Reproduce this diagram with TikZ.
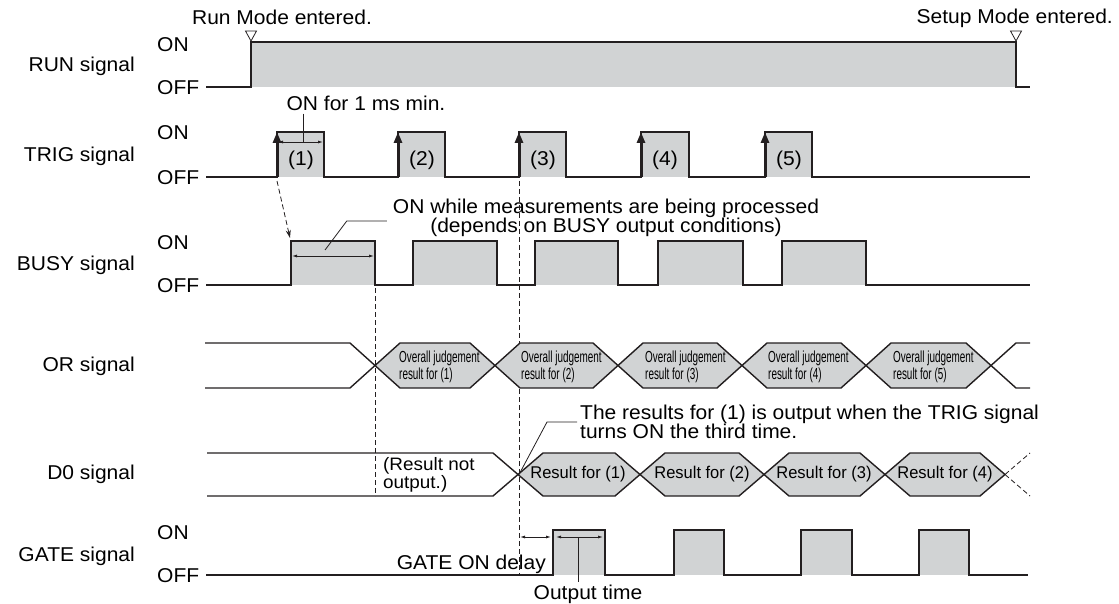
\documentclass[tikz,border=0pt]{standalone}
\usepackage{fontspec}
\setmainfont[FakeStretch=1.05]{Liberation Sans}
\newfontfamily\narrowfont[FakeStretch=0.62]{Liberation Sans}
\newfontfamily\cellfont[FakeStretch=0.97]{Liberation Sans}
\usetikzlibrary{arrows.meta, positioning}

\definecolor{ink}{HTML}{231F20}
\definecolor{shade}{HTML}{D1D3D4}

\begin{document}
\begin{tikzpicture}[
  x=1pt, y=-1pt,
  wave/.style={draw=ink, line width=1.4pt, line join=miter},
  onfill/.style={fill=shade},
  signame/.style={anchor=east, inner sep=0pt, font=\fontsize{20}{23}\selectfont},
  lvl/.style={anchor=west, inner sep=0pt, font=\fontsize{20}{23}\selectfont},
  note/.style={inner sep=0pt, align=left, font=\fontsize{20}{19}\selectfont},
  judge/.style={anchor=west, inner sep=0pt, align=left, font=\narrowfont\fontsize{16}{17}\selectfont},
  result/.style={inner sep=0pt, font=\cellfont\fontsize{17}{19}\selectfont},
  dim/.style={{Latex[length=5pt,width=3pt]}-{Latex[length=5pt,width=3pt]}, draw=ink, line width=0.8pt},
  leader/.style={draw=ink, line width=0.8pt},
  guide/.style={draw=ink, dash pattern=on 5pt off 3pt, line width=0.8pt},
  trigedge/.style={-{Triangle[length=11pt,width=8pt]}, draw=ink, line width=3pt},
  runflag/.style={draw=ink, fill=white, line width=0.8pt}
]
  \useasboundingbox (0,0) rectangle (1119,604);

  % signal names and levels
  \node[signame] (runsig) at (135,66) {RUN signal};
  \node[signame] (trigsig) at (135,156) {TRIG signal};
  \node[signame] (busysig) at (135,265) {BUSY signal};
  \node[signame] (orsig) at (135,366) {OR signal};
  \node[signame] (dosig) at (135,474) {D0 signal};
  \node[signame] (gatesig) at (135,556) {GATE signal};

  \node[lvl] (runon) at (157,45) {ON};
  \node[lvl] (runoff) at (157,88) {OFF};
  \node[lvl] (trigon) at (157,133) {ON};
  \node[lvl] (trigoff) at (157,178) {OFF};
  \node[lvl] (busyon) at (157,243) {ON};
  \node[lvl] (busyoff) at (157,286) {OFF};
  \node[lvl] (gateon) at (157,533) {ON};
  \node[lvl] (gateoff) at (157,576) {OFF};

  % RUN signal
  \fill[onfill] (251,42) rectangle (1016,87);
  \draw[wave] (206,87) -- (251,87) -- (251,42) -- (1016,42) -- (1016,87) -- (1030,87);
  \draw[runflag] (245.5,31) -- (256.5,31) -- (251,41) -- cycle;
  \draw[runflag] (1010.5,31) -- (1021.5,31) -- (1016,41) -- cycle;
  \node[note] (runmode) at (282,17) {Run Mode entered.};
  \node[note, anchor=east] (setupmode) at (1113,18) {Setup Mode entered.};

  % TRIG signal
  \fill[onfill] (277,132) rectangle (324,177);
  \fill[onfill] (398,132) rectangle (445,177);
  \fill[onfill] (519,132) rectangle (566,177);
  \fill[onfill] (641,132) rectangle (689,177);
  \fill[onfill] (765,132) rectangle (812,177);
  \draw[wave] (206,177) -- (277,177) -- (277,132) -- (324,132) -- (324,177)
    -- (398,177) -- (398,132) -- (445,132) -- (445,177)
    -- (519,177) -- (519,132) -- (566,132) -- (566,177)
    -- (641,177) -- (641,132) -- (689,132) -- (689,177)
    -- (765,177) -- (765,132) -- (812,132) -- (812,177) -- (1030,177);
  \draw[trigedge] (277,177) -- (277,132);
  \draw[trigedge] (398,177) -- (398,132);
  \draw[trigedge] (519,177) -- (519,132);
  \draw[trigedge] (641,177) -- (641,132);
  \draw[trigedge] (765,177) -- (765,132);
  \node[note] (trig1) at (301,160) {(1)};
  \node[note] (trig2) at (422,160) {(2)};
  \node[note] (trig3) at (543,160) {(3)};
  \node[note] (trig4) at (665,160) {(4)};
  \node[note] (trig5) at (789,160) {(5)};

  \node[note] (onmin) at (366,103) {ON for 1 ms min.};
  \coordinate (onminarr) at (303,142);
  \draw[dim] (278,142) -- (323,142);
  \draw[leader] ([yshift=-3pt]onmin.south -| onminarr) -- (onminarr);

  % BUSY signal
  \fill[onfill] (291,241) rectangle (375,285);
  \fill[onfill] (413,241) rectangle (497,285);
  \fill[onfill] (535,241) rectangle (618,285);
  \fill[onfill] (658,241) rectangle (743,285);
  \fill[onfill] (782,241) rectangle (866,285);
  \draw[wave] (206,285) -- (291,285) -- (291,241) -- (375,241) -- (375,285)
    -- (413,285) -- (413,241) -- (497,241) -- (497,285)
    -- (535,285) -- (535,241) -- (618,241) -- (618,285)
    -- (658,285) -- (658,241) -- (743,241) -- (743,285)
    -- (782,285) -- (782,241) -- (866,241) -- (866,285) -- (1030,285);
  \draw[dim] (292,256) -- (374,256);
  \draw[guide, -{Stealth[length=8pt,width=5pt]}] (277,181) -- (290,238);

  \node[note, align=center] (busynote) at (606,218)
    {ON while measurements are being processed\\(depends on BUSY output conditions)};
  \coordinate (busyarr) at (325,250);
  \draw[leader] ([xshift=-6pt,yshift=-3pt]busynote.west) -- ++(-40,0) -- (busyarr);

  % timing guides
  \draw[guide] (375,288) -- (375,496);
  \draw[guide] (519,181) -- (519,575);

  % OR signal
  \draw[wave] (205,343) -- (350,343) -- (375,365.5);
  \draw[wave] (205,388) -- (350,388) -- (375,365.5);
  \filldraw[wave, onfill] (375,365.5) -- (400,343) -- (470,343) -- (495,365.5) -- (470,388) -- (400,388) -- cycle;
  \filldraw[wave, onfill] (495,365.5) -- (520,343) -- (593,343) -- (618,365.5) -- (593,388) -- (520,388) -- cycle;
  \filldraw[wave, onfill] (618,365.5) -- (643,343) -- (717,343) -- (742,365.5) -- (717,388) -- (643,388) -- cycle;
  \filldraw[wave, onfill] (742,365.5) -- (767,343) -- (841,343) -- (866,365.5) -- (841,388) -- (767,388) -- cycle;
  \filldraw[wave, onfill] (866,365.5) -- (891,343) -- (966,343) -- (991,365.5) -- (966,388) -- (891,388) -- cycle;
  \draw[wave] (991,365.5) -- (1016,343) -- (1030,343);
  \draw[wave] (991,365.5) -- (1016,388) -- (1030,388);
  \node[judge] (or1) at (399,367) {Overall judgement\\result for (1)};
  \node[judge] (or2) at (521,367) {Overall judgement\\result for (2)};
  \node[judge] (or3) at (645,367) {Overall judgement\\result for (3)};
  \node[judge] (or4) at (768,367) {Overall judgement\\result for (4)};
  \node[judge] (or5) at (893,367) {Overall judgement\\result for (5)};

  % D0 signal
  \draw[wave] (207,453) -- (493,453) -- (518,474.5);
  \draw[wave] (207,496) -- (493,496) -- (518,474.5);
  \filldraw[wave, onfill] (518,474.5) -- (543,453) -- (615,453) -- (640,474.5) -- (615,496) -- (543,496) -- cycle;
  \filldraw[wave, onfill] (640,474.5) -- (665,453) -- (739,453) -- (764,474.5) -- (739,496) -- (665,496) -- cycle;
  \filldraw[wave, onfill] (764,474.5) -- (789,453) -- (860,453) -- (885,474.5) -- (860,496) -- (789,496) -- cycle;
  \filldraw[wave, onfill] (885,474.5) -- (910,453) -- (980,453) -- (1005,474.5) -- (980,496) -- (910,496) -- cycle;
  \draw[guide] (1005,474.5) -- (1030,453);
  \draw[guide] (1005,474.5) -- (1030,496);
  \node[result] (do1) at (578,474) {Result for (1)};
  \node[result] (do2) at (702,474) {Result for (2)};
  \node[result] (do3) at (824,474) {Result for (3)};
  \node[result] (do4) at (945,474) {Result for (4)};

  \node[note, anchor=west, font=\fontsize{18}{18}\selectfont] (notout) at (383,475) {(Result not\\output.)};
  \node[note, anchor=west] (resnote) at (580,422)
    {The results for (1) is output when the TRIG signal\\turns ON the third time.};
  \coordinate (docross) at (519,474.5);
  \draw[leader] (docross) -- (547,422) -- ([xshift=-3pt]resnote.west);

  % GATE signal
  \fill[onfill] (553,530) rectangle (605,575);
  \fill[onfill] (674,530) rectangle (724,575);
  \fill[onfill] (801,530) rectangle (852,575);
  \fill[onfill] (919,530) rectangle (969,575);
  \draw[wave] (206,575) -- (553,575) -- (553,530) -- (605,530) -- (605,575)
    -- (674,575) -- (674,530) -- (724,530) -- (724,575)
    -- (801,575) -- (801,530) -- (852,530) -- (852,575)
    -- (919,575) -- (919,530) -- (969,530) -- (969,575) -- (1028,575);
  \draw[dim] (520,537) -- (551,537);
  \draw[dim] (556,537) -- (603,537);
  \node[note, anchor=east] (gatedelay) at (546,564) {GATE ON delay};
  \node[note] (outtime) at (588,594) {Output time};
  \coordinate (outarr) at (578,537);
  \draw[leader] (outarr) -- ([yshift=2pt]outtime.north -| outarr);
\end{tikzpicture}
\end{document}
